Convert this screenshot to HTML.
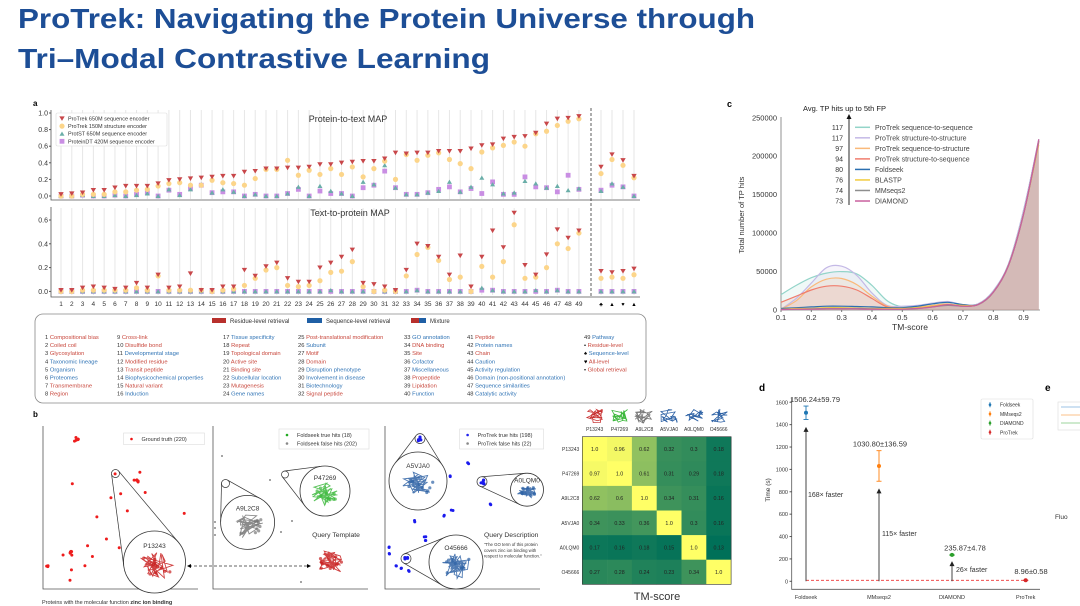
<!DOCTYPE html>
<html><head><meta charset="utf-8"><style>
html,body{margin:0;padding:0;background:#fff;width:1080px;height:606px;overflow:hidden}
svg{display:block;font-family:"Liberation Sans",sans-serif}
</style></head><body>
<svg id="s" width="1080" height="606" viewBox="0 0 1080 606" xmlns="http://www.w3.org/2000/svg">
<text x="18" y="28" font-size="28" font-weight="bold" fill="#1d4e96" textLength="737" lengthAdjust="spacingAndGlyphs">ProTrek: Navigating the Protein Universe through</text>
<text x="18" y="68" font-size="28" font-weight="bold" fill="#1d4e96" textLength="472" lengthAdjust="spacingAndGlyphs">Tri–Modal Contrastive Learning</text>
<g id="pa"></g>
<g id="pb"></g>
<g id="ph"></g>
<g id="pc"></g>
<g id="pd"></g>
</svg>
<script>
// ---------- Panel a data ----------
const p2tSeq=[0.02,0.03,0.04,0.07,0.07,0.1,0.12,0.12,0.12,0.15,0.19,0.2,0.21,0.22,0.23,0.24,0.24,0.29,0.3,0.33,0.33,0.34,0.34,0.35,0.38,0.38,0.4,0.41,0.42,0.42,0.45,0.52,0.51,0.52,0.52,0.54,0.54,0.54,0.57,0.61,0.62,0.69,0.71,0.72,0.76,0.87,0.93,0.94,0.96];
const p2tStruct=[0,0,0.02,0.02,0.02,0.05,0.05,0.07,0.08,0.12,0.15,0.16,0.13,0.13,0.19,0.16,0.15,0.13,0.21,0.32,0.32,0.43,0.25,0.31,0.26,0.33,0.26,0.35,0.23,0.33,0.42,0.2,0.5,0.43,0.49,0.52,0.44,0.39,0.33,0.53,0.58,0.61,0.65,0.6,0.75,0.78,0.85,0.9,0.93];
const p2tProtST=[0,0,0.01,0,0,0.01,0,0.01,0.03,0,0.08,0.01,0.08,0.14,0.04,0.08,0.05,0,0.02,0,0,0.03,0.11,0,0.12,0.06,0.03,0,0.17,0.14,0.37,0.1,0.02,0.02,0.04,0.06,0.17,0.05,0.11,0.22,0.14,0.03,0.04,0.18,0.15,0.1,0.12,0.07,0.09];
const p2tDT=[0,0,0.01,0,0,0.01,0,0.02,0.04,0,0.07,0.02,0.09,0.13,0.04,0.05,0.05,0,0.02,0,0,0.03,0.08,0,0.06,0.03,0.03,0,0.1,0.13,0.3,0.1,0.02,0.02,0.04,0.08,0.11,0.05,0.09,0.03,0.17,0.02,0.02,0.23,0.11,0.1,0.05,0.25,0.08];
const p2tExtraSeq=[0.35,0.5,0.43,0.24], p2tExtraStruct=[0.27,0.44,0.37,0.22], p2tExtraST=[0.06,0.15,0.11,0], p2tExtraDT=[0.07,0.13,0.11,0];
const t2pSeq=[0.01,0.01,0.03,0.04,0.03,0.02,0.03,0.07,0.03,0.14,0.03,0.04,0.15,0.01,0.01,0.04,0.04,0.18,0.13,0.21,0.24,0.11,0.08,0.08,0.2,0.24,0.29,0.35,0.07,0.06,0.04,0.01,0.18,0.4,0.38,0.29,0.14,0.3,0.04,0.29,0.51,0.37,0.66,0.22,0.14,0.31,0.52,0.45,0.51];
const t2pStruct=[0,0,0.01,0.01,0.01,0.01,0.01,0.03,0.01,0.13,0.01,0.01,0.01,0.01,0,0.01,0.02,0.05,0.11,0.18,0.2,0.05,0.04,0.05,0.09,0.16,0.17,0.25,0.04,0,0.01,0,0.13,0.31,0.37,0.26,0.1,0.12,0,0.21,0.12,0.25,0.56,0.11,0.12,0.2,0.4,0.36,0.49];
const t2pProtST=[0,0,0,0,0,0,0,0,0,0,0,0,0,0,0,0,0,0,0,0,0,0,0,0,0,0.01,0,0,0,0,0,0,0,0.01,0,0,0,0,0,0.03,0.01,0,0,0,0.01,0,0.01,0,0];
const t2pDT=[0,0,0,0,0,0,0,0,0,0,0,0,0,0,0,0,0,0,0,0,0,0,0,0,0,0,0,0,0,0,0,0,0,0.01,0,0,0,0,0,0.01,0.01,0,0,0,0,0,0.01,0,0];
const t2pExtraSeq=[0.17,0.16,0.17,0.19], t2pExtraStruct=[0.11,0.12,0.11,0.14], t2pExtraST=[0,0,0,0], t2pExtraDT=[0,0,0,0];
const topTicks=[0,0.2,0.4,0.6,0.8,1.0], botTicks=[0,0.2,0.4,0.6];
const extraSymbols=["♣","▲","♥","▲"];
const taskNames=["Compositional bias","Coiled coil","Glycosylation","Taxonomic lineage","Organism","Proteomes","Transmembrane","Region","Cross-link","Disulfide bond","Developmental stage","Modified residue","Transit peptide","Biophysicochemical properties","Natural variant","Induction","Tissue specificity","Repeat","Topological domain","Active site","Binding site","Subcellular location","Mutagenesis","Gene names","Post-translational modification","Subunit","Motif","Domain","Disruption phenotype","Involvement in disease","Biotechnology","Signal peptide","GO annotation","DNA binding","Site","Cofactor","Miscellaneous","Propeptide","Lipidation","Function","Peptide","Protein names","Chain","Caution","Activity regulation","Domain (non-positional annotation)","Sequence similarities","Catalytic activity","Pathway"];
const taskLevel="RRRBBBRRRRBRRBRBBRRRRBRBRBRRBBBRBRRBBRRBRBRBBBBBB";
// ---------- Panel c data ----------
const tmX=[0.1,0.15,0.2,0.25,0.3,0.35,0.4,0.45,0.5,0.55,0.6,0.65,0.7,0.75,0.8,0.85,0.9,0.95];
const seriesNames=["ProTrek sequence-to-sequence","ProTrek structure-to-structure","ProTrek sequence-to-structure","ProTrek structure-to-sequence","Foldseek","BLASTP","MMseqs2","DIAMOND"];
const avgHits=[117,117,97,94,80,76,74,73];
const sSeqSeq=[20,32,42,48,50,47,32,12,4,5,8,10,7,8,25,60,130,222];
const sStrStr=[1,15,35,55,57,45,22,6,5,6,9,11,7,8,25,60,130,222];
const sSeqStr=[1,12,30,40,41,33,18,5,3,4,6,8,5,7,23,58,125,215];
const sStrSeq=[10,18,26,31,31,26,15,4,2,3,5,7,5,7,23,58,125,218];
const sFoldseek=[2,3,4,5,5,4.5,4,3,3,5,8,10,7,7,23,58,125,220];
const sBlastp=[1,2,2,3,3,2.5,2,2,2,3,5,7,6,7,23,58,125,220];
const sMMseqs=[1,1,1.5,2,2,2,1.5,1,1,2,4,6,5,7,23,58,125,220];
const sDiamond=[0.5,1,1,1.5,1.5,1.5,1,1,1,2,4,7,5,7,23,58,125,222];
const cYTicks=[0,50000,100000,150000,200000,250000], cXTicks=[0.1,0.2,0.3,0.4,0.5,0.6,0.7,0.8,0.9];
// ---------- Panel d data ----------
const tools=["Foldseek","MMseqs2","DIAMOND","ProTrek"];
const timeMean=[1506.24,1030.80,235.87,8.96];
const timeErr=[59.79,136.59,4.78,0.58];
const speedup=["168× faster","115× faster","26× faster"];
const dYTicks=[0,200,400,600,800,1000,1200,1400,1600];
// ---------- Heatmap data ----------
const hmLabels=["P13243","P47269","A9L2C8","A5VJA0","A0LQM0","O45666"];
const hmRow0=[1.0,0.96,0.62,0.32,0.3,0.18];
const hmRow1=[0.97,1.0,0.61,0.31,0.29,0.18];
const hmRow2=[0.62,0.6,1.0,0.34,0.31,0.16];
const hmRow3=[0.34,0.33,0.36,1.0,0.3,0.16];
const hmRow4=[0.17,0.16,0.18,0.15,1.0,0.13];
const hmRow5=[0.27,0.28,0.24,0.23,0.34,1.0];

const NS="http://www.w3.org/2000/svg";
function mk(par,tag,at,txt){const e=document.createElementNS(NS,tag);for(const k in at)e.setAttribute(k,at[k]);if(txt!==undefined)e.textContent=txt;par.appendChild(e);return e;}
function T(par,x,y,s,size,fill,anchor,extra){const e=mk(par,'text',Object.assign({x:x,y:y,'font-size':size,fill:fill||'#222','text-anchor':anchor||'start'},extra||{}),s);return e;}

// ===== Panel a =====
const A=document.getElementById('pa');
T(A,33,106,"a",8,"#000","start",{'font-weight':'bold'});
const xA=i=>61+i*10.79;
const xE=[601,612,623,634];
const yTop=v=>196-v*83, yBot=v=>291.4-v*119;
for(let i=0;i<49;i++){
  let g=mk(A,'line',{x1:xA(i),x2:xA(i),y1:110,y2:199,stroke:'#e6e6e6','stroke-width':1});
  
  
  g=mk(A,'line',{x1:xA(i),x2:xA(i),y1:208,y2:295,stroke:'#e6e6e6','stroke-width':1});
  
  
}
xE.forEach(x=>{mk(A,'line',{x1:x,x2:x,y1:110,y2:199,stroke:'#e6e6e6'});mk(A,'line',{x1:x,x2:x,y1:208,y2:295,stroke:'#e6e6e6'});});
mk(A,'path',{d:'M51,110 V200 H640',fill:'none',stroke:'#555','stroke-width':0.8});
mk(A,'path',{d:'M51,207 V297 H640',fill:'none',stroke:'#555','stroke-width':0.8});
mk(A,'line',{x1:591,x2:591,y1:108,y2:297,stroke:'#333','stroke-dasharray':'3,2','stroke-width':0.8});
topTicks.forEach(v=>{T(A,48,yTop(v)+2.5,v.toFixed(1),7,'#333','end');mk(A,'line',{x1:49,x2:51,y1:yTop(v),y2:yTop(v),stroke:'#555'});});
botTicks.forEach(v=>{T(A,48,yBot(v)+2.5,v.toFixed(1),7,'#333','end');mk(A,'line',{x1:49,x2:51,y1:yBot(v),y2:yBot(v),stroke:'#555'});});
for(let i=0;i<49;i++){T(A,xA(i),306,String(i+1),6.5,'#333','middle');}
extraSymbols.forEach((s,i)=>{T(A,xE[i],306,s,5.5,'#000','middle');});
T(A,348,122,"Protein-to-text MAP",9,'#333','middle');
T(A,350,216,"Text-to-protein MAP",9,'#333','middle');
function triDown(x,y,c){const s=2.7;return mk(A,'path',{d:`M${x-s},${y-s*0.8} L${x+s},${y-s*0.8} L${x},${y+s*0.9} Z`,fill:c});}
function triUp(x,y,c){const s=2.5;return mk(A,'path',{d:`M${x-s},${y+s*0.8} L${x+s},${y+s*0.8} L${x},${y-s*0.9} Z`,fill:c});}
function circ(x,y,c){return mk(A,'circle',{cx:x,cy:y,r:2.6,fill:c});}
function sq(x,y,c){return mk(A,'rect',{x:x-2.4,y:y-2.4,width:4.8,height:4.8,fill:c});}
const cSeq='#c8474a',cStr='#fcd58a',cST='#6aaea8',cDT='#c98ee3';
function plotSet(arrs,ext,yf){
  arrs[3].forEach((v,i)=>{const e=sq(xA(i),yf(v),cDT);});
  arrs[2].forEach((v,i)=>{const e=triUp(xA(i),yf(v),cST);});
  arrs[1].forEach((v,i)=>{const e=circ(xA(i),yf(v),cStr);});
  arrs[0].forEach((v,i)=>{const e=triDown(xA(i),yf(v),cSeq);});
  ext[3].forEach((v,i)=>{sq(xE[i],yf(v),cDT);});
  ext[2].forEach((v,i)=>{triUp(xE[i],yf(v),cST);});
  ext[1].forEach((v,i)=>{circ(xE[i],yf(v),cStr);});
  ext[0].forEach((v,i)=>{triDown(xE[i],yf(v),cSeq);});
}
plotSet([p2tSeq,p2tStruct,p2tProtST,p2tDT],[p2tExtraSeq,p2tExtraStruct,p2tExtraST,p2tExtraDT],yTop);
plotSet([t2pSeq,t2pStruct,t2pProtST,t2pDT],[t2pExtraSeq,t2pExtraStruct,t2pExtraST,t2pExtraDT],yBot);
const lg=mk(A,'g',{});
mk(lg,'rect',{x:56,y:113,width:111,height:33,fill:'#fff',stroke:'#ddd','stroke-width':0.6,rx:1.5});
const legM=[["ProTrek   650M sequence encoder",'d'],["ProTrek   150M structure encoder",'c'],["ProtST    650M sequence encoder",'u'],["ProteinDT 420M sequence encoder",'s']];
legM.forEach((m,i)=>{const y=118.5+i*7.6;
  if(m[1]=='d')triDown(62,y,cSeq);if(m[1]=='c')circ(62,y,cStr);if(m[1]=='u')triUp(62,y,cST);if(m[1]=='s')sq(62,y,cDT);
  T(lg,68,y+2,m[0],5.5,'#333','start',{'xml:space':'preserve'});});
const tb=mk(A,'g',{});
mk(tb,'rect',{x:35,y:314,width:611,height:89,rx:8,fill:'#fff',stroke:'#888','stroke-width':0.8});
const RED='#c8473c',BLU='#2f73b5';
mk(tb,'rect',{x:212,y:318,width:14,height:5,fill:'#b8302c'});T(tb,230,323,"Residue-level retrieval",6,'#333');
mk(tb,'rect',{x:307,y:318,width:15,height:5,fill:'#1f5fa5'});T(tb,326,323,"Sequence-level retrieval",6,'#333');
mk(tb,'rect',{x:411,y:318,width:8,height:5,fill:'#b8302c'});mk(tb,'rect',{x:419,y:318,width:7,height:5,fill:'#1f5fa5'});T(tb,430,323,"Mixture",6,'#333');
const colX=[45,117,223,298,404,467,584];
taskNames.forEach((n,i)=>{const c=Math.floor(i/8),r=i%8;const y=339+r*8.1;
  const t=mk(tb,'text',{x:colX[c],y:y,'font-size':5.8,fill:'#333'});
  
  mk(t,'tspan',{},(i+1)+" ");mk(t,'tspan',{fill:taskLevel[i]=='R'?RED:BLU},n);});
[["•","Residue-level",RED],["♠","Sequence-level",BLU],["♥","All-level",RED],["•","Global retrieval",RED]].forEach((m,k)=>{
  const y=339+(k+1)*8.1;const t=mk(tb,'text',{x:584,y:y,'font-size':5.8,fill:'#000'});
  
  mk(t,'tspan',{},m[0]+" ");mk(t,'tspan',{fill:m[2]},m[1]);});

// ===== Panel b =====
const B=document.getElementById('pb');
T(B,33,417,"b",8,"#000","start",{'font-weight':'bold'});
[[43,198],[213,368],[385,540]].forEach(p=>{mk(B,'path',{d:`M${p[0]},426 V589 H${p[1]}`,fill:'none',stroke:'#555','stroke-width':0.8});});
let seed=7;const rnd=()=>{seed=(seed*16807)%2147483647;return seed/2147483647;};
function cluster(x,y,n,sp,c,r){for(let k=0;k<n;k++)mk(B,'circle',{cx:x+(rnd()-0.5)*sp,cy:y+(rnd()-0.5)*sp,r:r,fill:c});}
const gt=[[77,439,6],[72,484,1],[140,472,1],[145,493,1],[136,480,6],[97,517,1],[127,511,1],[121,494,1],[111,498,1],[106,539,1],[184,513,1],[88,546,1],[63,555,1],[85,566,1],[92,557,1],[71,553,7],[46,566,3],[70,580,1],[71,570,1],[119,548,1],[115,474,1]];
gt.forEach(p=>cluster(p[0],p[1],p[2],p[2]>1?5:1,'#ee1c1c',1.5));
const fs=[[222,456],[270,480],[292,521],[301,582],[281,532],[215,528],[215,522],[215,535]];fs.forEach(p=>mk(B,'circle',{cx:p[0],cy:p[1],r:1,fill:'#888'}));
const pt=[[468,463],[451,476],[452,511],[444,516],[425,536],[414,521],[390,548],[389,554],[425,541],[491,504],[482,482],[397,565],[409,571],[402,568]];pt.forEach(p=>cluster(p[0],p[1],2,2,'#1a1aee',1.5));
cluster(420,439,4,4,'#1a1aee',1.6);cluster(482,482,4,4,'#1a1aee',1.6);cluster(406,558,4,4,'#1a1aee',1.6);
function blob(cx,cy,r,c){const g=mk(B,'g',{});let d='';for(let k=0;k<45;k++){const a=rnd()*6.28,rr=rnd()*r*0.75;d+=(k?'L':'M')+(cx+Math.cos(a)*rr).toFixed(1)+','+(cy+Math.sin(a)*rr*0.8).toFixed(1);}
  mk(g,'path',{d:d,fill:'none',stroke:c,'stroke-width':0.9,opacity:0.85});for(let k=0;k<10;k++)mk(g,'circle',{cx:cx+(rnd()-0.4)*r*1.1,cy:cy+(rnd()-0.5)*r*0.7,r:1.6,fill:c,opacity:0.7});return g;}
function zoomCircle(sx,sy,sr,bx,by,br,label,c){
  const g=mk(B,'g',{});
  const dx=bx-sx,dy=by-sy,dd=Math.hypot(dx,dy),ang=Math.atan2(dy,dx),off=Math.asin((br-sr)/dd);
  [1,-1].forEach(s=>{const a=ang+s*(Math.PI/2+off);mk(g,'line',{x1:sx+sr*Math.cos(a),y1:sy+sr*Math.sin(a),x2:bx+br*Math.cos(a),y2:by+br*Math.sin(a),stroke:'#333','stroke-width':0.7});});
  mk(g,'circle',{cx:sx,cy:sy,r:sr,fill:'none',stroke:'#333','stroke-width':0.7});
  mk(g,'circle',{cx:bx,cy:by,r:br,fill:'#fff',stroke:'#333','stroke-width':0.8});
  blob(bx,by+br*0.15,br*0.8,c);T(g,bx,by-br*0.45,label,6.5,'#333','middle');}
zoomCircle(115.5,473.5,4,154.5,562,31,'P13243','#c82020');
zoomCircle(225.5,483.5,4,247.6,522.4,27,'A9L2C8','#777');
zoomCircle(285,474.5,3.5,325,491,25,'P47269','#3cb83c');
zoomCircle(420,438.6,5,418,481,29,'A5VJA0','#2e62a5');
zoomCircle(482,481.7,5,527,489.7,16.5,'A0LQM0','#2e62a5');
zoomCircle(406,558.6,5,456,562,27,'O45666','#2e62a5');
blob(330,563,22,'#c82020');
T(B,336,537,"Query Template",6.8,'#333','middle');
mk(B,'line',{x1:189,y1:566,x2:309,y2:566,stroke:'#333','stroke-width':0.7,'stroke-dasharray':'3,2'});
mk(B,'path',{d:'M187,566 l4,-2 v4 Z M311,566 l-4,-2 v4 Z',fill:'#000'});
T(B,484,537,"Query Description",6.8,'#333');
["\"The GO term of this protein","covers zinc ion binding with","respect to molecular function.\""].forEach((s,i)=>T(B,484,546+i*5.8,s,4.3,'#333'));
const cap=mk(B,'text',{x:42,y:604,'font-size':5.5,fill:'#333'});
mk(cap,'tspan',{},"Proteins with the  molecular function ");mk(cap,'tspan',{'font-weight':'bold'},"zinc ion binding");
function lbox(x,y,w,items){const g=mk(B,'g',{});mk(g,'rect',{x:x,y:y,width:w,height:items.length*8.5+3,fill:'#fff',stroke:'#ddd','stroke-width':0.6});
  items.forEach((it,i)=>{mk(g,'circle',{cx:x+8,cy:y+6+i*8.5,r:1.3,fill:it[1]});T(g,x+18,y+8+i*8.5,it[0],5.5,'#333');});}
lbox(123.5,433,81,[["Ground truth (220)",'#e11']]);
lbox(279,429,90,[["Foldseek true hits (18)",'#2a2'],["Foldseek false hits (202)",'#888']]);
lbox(459.6,429,84,[["ProTrek true hits (198)",'#22e'],["ProTrek false hits (22)",'#888']]);

// ===== Heatmap =====
const H=document.getElementById('ph');
const hm=[hmRow0,hmRow1,hmRow2,hmRow3,hmRow4,hmRow5];
const hx0=582.3,hy0=436.7,cw=24.8,ch=24.6,vmin=0.13,vmax=1.0;
function summer(v){const t=(v-vmin)/(vmax-vmin);return `rgb(${Math.round(255*t)},${Math.round(112+143*t)},${Math.round(88+14*t)})`;}
hm.forEach((row,r)=>row.forEach((v,c)=>{const e=mk(H,'rect',{x:hx0+c*cw,y:hy0+r*ch,width:cw+0.3,height:ch+0.3,fill:summer(v)});
  
  T(H,hx0+c*cw+cw/2,hy0+r*ch+ch/2+2,v===1?'1.0':String(v),5.3,'#222','middle');}));
mk(H,'rect',{x:hx0,y:hy0,width:cw*6,height:ch*6,fill:'none',stroke:'#333','stroke-width':0.6});
const hcols=['#c83030','#3cb83c','#777','#2e62a5','#2e62a5','#2e62a5'];
hmLabels.forEach((l,i)=>{T(H,hx0+i*cw+cw/2,431,l,5,'#333','middle');
  T(H,hx0-3,hy0+i*ch+ch/2+2,l,5,'#333','end');
  const cx=hx0+i*cw+cw/2;let d='';for(let k=0;k<22;k++){d+=(k?'L':'M')+(cx+(rnd()-0.5)*18).toFixed(1)+','+(416+(rnd()-0.5)*14).toFixed(1);}mk(H,'path',{d:d,fill:'none',stroke:hcols[i],'stroke-width':0.8});});
T(H,657,600,"TM-score",11,'#333','middle');

// ===== Panel c =====
const C=document.getElementById('pc');
T(C,727,107,"c",9,"#000","start",{'font-weight':'bold'});
const xC=t=>781+(t-0.1)*303.3, yC=v=>310-v*0.769;
mk(C,'path',{d:'M781,117 V310 H1040',fill:'none',stroke:'#777','stroke-width':0.8});
cYTicks.forEach(v=>{T(C,777,yC(v/1000)+2.5,String(v),7.5,'#333','end');});
cXTicks.forEach(v=>{T(C,xC(v),320,v.toFixed(1),7.5,'#333','middle');mk(C,'line',{x1:xC(v),x2:xC(v),y1:310,y2:312,stroke:'#777'});});
T(C,910,330,"TM-score",8.5,'#333','middle');
T(C,744,215,"Total number of TP hits",7.5,'#333','middle',{transform:'rotate(-90 744 215)'});
const cSeries=[sSeqSeq,sStrStr,sSeqStr,sStrSeq,sFoldseek,sBlastp,sMMseqs,sDiamond];
const cColors=['#93d4c9','#c4b9e6','#fab97a','#f07d6d','#2b6fb0','#f2cb3d','#8e8e8e','#c9609e'];
function smooth(pts){let d='M'+pts[0][0].toFixed(1)+','+pts[0][1].toFixed(1);for(let i=0;i<pts.length-1;i++){const p0=pts[i-1]||pts[i],p1=pts[i],p2=pts[i+1],p3=pts[i+2]||p2;
  const c1=[p1[0]+(p2[0]-p0[0])/6,p1[1]+(p2[1]-p0[1])/6],c2=[p2[0]-(p3[0]-p1[0])/6,p2[1]-(p3[1]-p1[1])/6];
  d+=` C${c1[0].toFixed(1)},${c1[1].toFixed(1)} ${c2[0].toFixed(1)},${c2[1].toFixed(1)} ${p2[0].toFixed(1)},${p2[1].toFixed(1)}`;}return d;}
cSeries.forEach((s,k)=>{const pts=s.map((v,i)=>[xC(tmX[i]),yC(v)]);const d=smooth(pts);
  const f=mk(C,'path',{d:d+` L${xC(tmX[tmX.length-1])},310 L${xC(tmX[0])},310 Z`,fill:k<4?cColors[k]:'#b89890','fill-opacity':k<4?0.14:0.12,stroke:'none'});
  });
cSeries.forEach((s,k)=>{const pts=s.map((v,i)=>[xC(tmX[i]),yC(v)]);
  const e=mk(C,'path',{d:smooth(pts),fill:'none',stroke:cColors[k],'stroke-width':1.2});
  });
mk(C,'line',{x1:849,y1:205,x2:849,y2:118,stroke:'#111','stroke-width':0.9});
mk(C,'path',{d:'M849,114 l-2.5,5 h5 Z',fill:'#111'});
T(C,803,111,"Avg. TP hits up to 5th FP",7.5,'#222');
seriesNames.forEach((n,k)=>{const y=127.3+k*10.53;const g=mk(C,'g',{});
  T(g,843,y+2.5,String(avgHits[k]),7,'#333','end');mk(g,'line',{x1:855,x2:870,y1:y,y2:y,stroke:cColors[k],'stroke-width':1.5});T(g,875,y+2.5,n,7,'#444');});

// ===== Panel d =====
const D=document.getElementById('pd');
T(D,759,391,"d",10,"#000","start",{'font-weight':'bold'});
T(D,1045,391,"e",10,"#000","start",{'font-weight':'bold'});
const xDc=[806,879,952,1025.7], yD=v=>581.3-v*0.1119;
mk(D,'path',{d:'M791.7,398 V589.3 H1040',fill:'none',stroke:'#555','stroke-width':0.8});
dYTicks.forEach(v=>{T(D,788,yD(v)+2,String(v),5.5,'#333','end');mk(D,'line',{x1:789.5,x2:791.7,y1:yD(v),y2:yD(v),stroke:'#555'});});
tools.forEach((t,i)=>{T(D,xDc[i],599,t,5.5,'#333','middle');});
T(D,770,490,"Time (s)",6.5,'#333','middle',{transform:'rotate(-90 770 490)'});
const dCol=['#1f77b4','#ff7f0e','#2ca02c','#d62728'];
mk(D,'line',{x1:xDc[0],x2:xDc[3],y1:yD(timeMean[3]),y2:yD(timeMean[3]),stroke:'#e33','stroke-width':0.9,'stroke-dasharray':'3,2'});
const arrowTop=[1380,830,180];
arrowTop.forEach((v,i)=>{mk(D,'line',{x1:xDc[i],x2:xDc[i],y1:yD(0),y2:yD(v)+3,stroke:'#444','stroke-width':1});
  mk(D,'path',{d:`M${xDc[i]},${yD(v)} l-2.5,5 h5 Z`,fill:'#222'});});
T(D,808,497,speedup[0],7,'#333');
T(D,882,536,speedup[1],7,'#333');
T(D,956,572,speedup[2],7,'#333');
tools.forEach((t,i)=>{const g=mk(D,'g',{});
  const y1=yD(timeMean[i]+timeErr[i]),y2=yD(timeMean[i]-timeErr[i]),x=xDc[i];
  mk(g,'line',{x1:x,x2:x,y1:y1,y2:y2,stroke:dCol[i],'stroke-width':0.9});
  mk(g,'line',{x1:x-2.5,x2:x+2.5,y1:y1,y2:y1,stroke:dCol[i],'stroke-width':0.9});
  mk(g,'line',{x1:x-2.5,x2:x+2.5,y1:y2,y2:y2,stroke:dCol[i],'stroke-width':0.9});
  mk(g,'circle',{cx:x,cy:yD(timeMean[i]),r:2,fill:dCol[i]});
  const lx=[815,880,965,1031][i],ly=yD(timeMean[i]+timeErr[i])-4-(i==3?2:0);
  T(g,lx,ly,timeMean[i].toFixed(2)+"±"+timeErr[i].toFixed(2),7.5,'#333','middle');});
const dl=mk(D,'g',{});
mk(dl,'rect',{x:981,y:399,width:52,height:40,fill:'#fff',stroke:'#ddd','stroke-width':0.6,rx:1.5});
tools.forEach((t,i)=>{const y=404.7+i*9.2;mk(dl,'line',{x1:990,x2:990,y1:y-2.5,y2:y+2.5,stroke:dCol[i]});mk(dl,'circle',{cx:990,cy:y,r:1.3,fill:dCol[i]});T(dl,1000,y+2,t,5,'#333');});
mk(D,'rect',{x:1058,y:402,width:30,height:28,fill:'#fff',stroke:'#ddd','stroke-width':0.6});
['#9cc3e6','#fbc08a','#9ed49e'].forEach((c,i)=>mk(D,'line',{x1:1061,x2:1080,y1:407+i*8,y2:407+i*8,stroke:c}));
T(D,1055,519,"Fluo",6.5,'#333');
</script>
</body></html>
